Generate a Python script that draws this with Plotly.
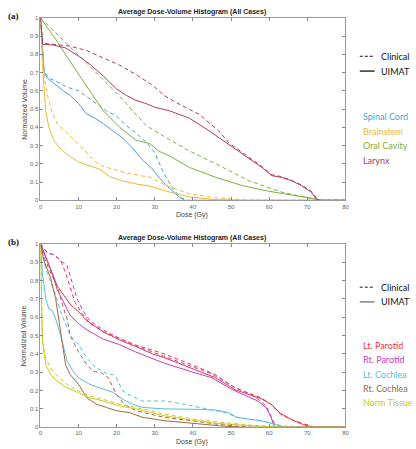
import plotly.graph_objects as go

# ---------------- data: panel (a) ----------------
sc_u_d = [0, 0.3, 0.6, 1, 1.8, 3.5, 6, 7.8, 10, 12, 14.3, 16.5, 19, 21.6, 24, 26.8, 29, 31.3, 33.9, 36.9, 37.8, 80]
sc_u_v = [1, 0.9, 0.78, 0.70, 0.67, 0.64, 0.60, 0.575, 0.53, 0.475, 0.45, 0.42, 0.38, 0.34, 0.29, 0.22, 0.18, 0.12, 0.064, 0.01, 0, 0]
sc_c_d = [0, 0.3, 0.6, 1, 2.7, 4.4, 7, 10, 12, 14.7, 17.3, 20, 22.5, 25, 27.7, 30, 32.2, 34.8, 36.9, 38.5, 80]
sc_c_v = [1, 0.9, 0.78, 0.70, 0.665, 0.65, 0.62, 0.60, 0.57, 0.53, 0.49, 0.46, 0.41, 0.37, 0.32, 0.26, 0.155, 0.06, 0.015, 0, 0]

bs_u_d = [0, 0.5, 1, 1.4, 2.2, 3.5, 5.3, 7.8, 10, 13, 15.6, 18.2, 21.6, 25, 28.7, 33.9, 39.1, 46, 52, 80]
bs_u_v = [1, 0.75, 0.60, 0.49, 0.40, 0.33, 0.28, 0.24, 0.21, 0.19, 0.17, 0.13, 0.106, 0.09, 0.078, 0.045, 0.018, 0.004, 0, 0]
bs_c_d = [0, 0.5, 1, 1.8, 3.1, 4.4, 6.1, 8.7, 11.3, 13.9, 16, 19, 22.5, 26.8, 28.7, 33, 39.1, 46, 55, 80]
bs_c_v = [1, 0.82, 0.68, 0.58, 0.48, 0.42, 0.385, 0.33, 0.28, 0.22, 0.19, 0.17, 0.15, 0.133, 0.128, 0.08, 0.036, 0.014, 0, 0]

oc_u_d = [0, 4.4, 7.8, 12.2, 16.5, 20.8, 25, 28.7, 31, 33.9, 39.1, 46, 52.9, 59.8, 66.7, 71.9, 73, 80]
oc_u_v = [1, 0.87, 0.76, 0.62, 0.49, 0.40, 0.33, 0.31, 0.27, 0.243, 0.18, 0.126, 0.081, 0.05, 0.027, 0.008, 0, 0]
oc_c_d = [0, 3.5, 7.8, 12.2, 16.5, 20.8, 24.2, 27.7, 30, 34, 38.2, 46, 54.6, 63.2, 71.9, 73.5, 80]
oc_c_v = [1, 0.93, 0.84, 0.75, 0.66, 0.57, 0.49, 0.41, 0.38, 0.33, 0.28, 0.20, 0.108, 0.045, 0.008, 0, 0]

lx_u_d = [0, 0.3, 0.6, 3.5, 6.6, 10, 13, 16.5, 20, 22.5, 25, 27.7, 30, 33.9, 39.1, 44.3, 49.4, 54.6, 58.1, 60.7, 63.2, 65.8, 68.4, 71, 72.2, 73.2, 80]
lx_u_v = [1, 0.92, 0.855, 0.85, 0.835, 0.79, 0.745, 0.68, 0.61, 0.575, 0.548, 0.53, 0.51, 0.49, 0.45, 0.38, 0.306, 0.234, 0.18, 0.135, 0.126, 0.108, 0.081, 0.045, 0.01, 0, 0]
lx_c_d = [0, 0.3, 0.6, 3.5, 7.8, 12.2, 16.5, 20.8, 25, 29.4, 32.4, 35.2, 41.7, 46.8, 49.4, 54.6, 58.1, 60.7, 63.2, 65.8, 68.4, 71, 72.4, 73.5, 80]
lx_c_v = [1, 0.93, 0.86, 0.855, 0.845, 0.82, 0.78, 0.74, 0.69, 0.63, 0.575, 0.54, 0.47, 0.38, 0.315, 0.24, 0.185, 0.14, 0.13, 0.11, 0.085, 0.05, 0.012, 0, 0]

# ---------------- data: panel (b) ----------------
lp_u_d = [0, 0.9, 2.7, 4.4, 6.1, 7.8, 10, 12.2, 16.5, 20.8, 25, 29.4, 32.4, 39.8, 45.9, 51, 54.5, 57.9, 60.5, 63, 66.5, 69, 71.5, 80]
lp_u_v = [1, 0.95, 0.86, 0.77, 0.72, 0.67, 0.63, 0.58, 0.52, 0.475, 0.44, 0.40, 0.38, 0.32, 0.27, 0.205, 0.18, 0.155, 0.125, 0.075, 0.035, 0.014, 0, 0]
lp_c_d = [0, 1.8, 3.5, 5.3, 6.6, 7.8, 9.1, 10.9, 13, 16.5, 20.8, 25, 29.4, 32.4, 39.8, 45.9, 51, 54.5, 57.9, 60.5, 63, 66.5, 69, 71.8, 80]
lp_c_v = [1, 0.95, 0.94, 0.91, 0.84, 0.76, 0.68, 0.62, 0.565, 0.52, 0.484, 0.448, 0.42, 0.40, 0.34, 0.287, 0.215, 0.188, 0.16, 0.125, 0.07, 0.036, 0.018, 0, 0]

rp_u_d = [0, 0.9, 2.7, 4.4, 7.8, 10, 12.2, 16.5, 20.8, 25, 29.4, 32.4, 40, 45, 50.2, 57, 59.2, 60.5, 61.4, 80]
rp_u_v = [1, 0.95, 0.86, 0.75, 0.61, 0.565, 0.53, 0.48, 0.45, 0.41, 0.376, 0.35, 0.30, 0.27, 0.206, 0.143, 0.107, 0.054, 0, 0]
rp_c_d = [0, 1.8, 3.5, 5.7, 7, 8.3, 9.6, 11.3, 13, 16.5, 20.8, 25, 29.4, 32.4, 40, 45, 50.2, 55, 57, 59.2, 60.5, 61.8, 80]
rp_c_v = [1, 0.95, 0.94, 0.905, 0.88, 0.79, 0.70, 0.63, 0.58, 0.53, 0.484, 0.444, 0.41, 0.39, 0.33, 0.29, 0.225, 0.18, 0.155, 0.115, 0.06, 0, 0]

lc_u_d = [0, 0.5, 1.4, 2.2, 3.1, 4, 5.3, 7, 8.7, 10, 13, 16.5, 19, 21.6, 24.2, 26.8, 32.4, 40, 46, 49.3, 51.5, 58.8, 61, 64, 80]
lc_u_v = [1, 0.84, 0.70, 0.645, 0.636, 0.59, 0.50, 0.36, 0.30, 0.27, 0.233, 0.206, 0.19, 0.152, 0.125, 0.108, 0.10, 0.098, 0.094, 0.08, 0.054, 0.032, 0.02, 0, 0]
lc_c_d = [0, 1.4, 2.7, 4, 5.3, 7, 7.8, 10, 12.2, 14.3, 16.5, 17.8, 19, 19.9, 21.6, 23.8, 26.8, 32.4, 35.5, 44, 48.5, 51.5, 58, 63, 66, 80]
lc_c_v = [1, 0.86, 0.79, 0.72, 0.63, 0.54, 0.50, 0.45, 0.376, 0.33, 0.30, 0.287, 0.287, 0.27, 0.197, 0.17, 0.143, 0.143, 0.134, 0.10, 0.08, 0.054, 0.035, 0.01, 0, 0]

rc_u_d = [0, 0.9, 2.7, 4, 5.3, 6.6, 7.8, 10, 12.2, 14.7, 17.3, 19.9, 23.3, 26.8, 32.4, 40, 47, 53, 80]
rc_u_v = [1, 0.91, 0.81, 0.70, 0.52, 0.34, 0.287, 0.233, 0.16, 0.125, 0.108, 0.09, 0.08, 0.054, 0.036, 0.02, 0.008, 0, 0]
rc_c_d = [0, 0.9, 2.7, 4.4, 6.1, 7, 7.8, 10, 12.2, 13.9, 16, 17.8, 19.9, 22, 25, 28.5, 32.4, 40, 47, 55, 80]
rc_c_v = [1, 0.93, 0.84, 0.77, 0.645, 0.59, 0.50, 0.41, 0.34, 0.305, 0.296, 0.27, 0.18, 0.125, 0.09, 0.072, 0.054, 0.035, 0.015, 0, 0]

nt_u_d = [0, 0.25, 0.5, 1.4, 2.7, 4.4, 7, 10, 13, 16.5, 20.8, 25, 32.4, 40, 46, 55, 62, 80]
nt_u_v = [1, 0.66, 0.48, 0.34, 0.287, 0.25, 0.215, 0.188, 0.16, 0.143, 0.116, 0.10, 0.063, 0.038, 0.022, 0.008, 0, 0]
nt_c_d = [0, 0.25, 0.5, 1.4, 2.7, 4.4, 7, 10, 13, 16.5, 20.8, 25, 32.4, 40, 46, 55, 65, 80]
nt_c_v = [1, 0.68, 0.47, 0.376, 0.32, 0.28, 0.233, 0.197, 0.17, 0.152, 0.125, 0.108, 0.072, 0.045, 0.03, 0.012, 0, 0]

panel_a = [
    ("Spinal Cord", "#4a9fd4", sc_u_d, sc_u_v, sc_c_d, sc_c_v),
    ("Brainstem", "#efb733", bs_u_d, bs_u_v, bs_c_d, bs_c_v),
    ("Oral Cavity", "#7fae3c", oc_u_d, oc_u_v, oc_c_d, oc_c_v),
    ("Larynx", "#b03a62", lx_u_d, lx_u_v, lx_c_d, lx_c_v),
]
panel_b = [
    ("Lt. Parotid", "#e8343c", lp_u_d, lp_u_v, lp_c_d, lp_c_v),
    ("Rt. Parotid", "#c03ec8", rp_u_d, rp_u_v, rp_c_d, rp_c_v),
    ("Lt. Cochlea", "#55bde6", lc_u_d, lc_u_v, lc_c_d, lc_c_v),
    ("Rt. Cochlea", "#a5653c", rc_u_d, rc_u_v, rc_c_d, rc_c_v),
    ("Norm Tissue", "#c8c824", nt_u_d, nt_u_v, nt_c_d, nt_c_v),
]

x_ticks = list(range(0, 81, 10))
y_ticks = [round(i * 0.1, 1) for i in range(11)]
y_labels = ["0"] + [f"{v:g}" for v in y_ticks[1:-1]] + ["1"]

W, H = 416, 449
fig = go.Figure()

def px_x(p):
    return p / W

def px_y(p):
    return 1 - p / H

panels = [
    (panel_a, "x", "y", 15, 200, 54, 69, 115.5),
    (panel_b, "x2", "y2", 244, 430, 288, 303, 347),
]

for organs, xa, ya, top, bot, ly1, ly2, ly3 in panels:
    for name, col, ud, uv, cd, cv in organs:
        fig.add_trace(go.Scatter(x=cd, y=cv, mode="lines", xaxis=xa, yaxis=ya,
                                 line=dict(color=col, width=1, dash="4px,3px"),
                                 showlegend=False, hoverinfo="skip"))
        fig.add_trace(go.Scatter(x=ud, y=uv, mode="lines", xaxis=xa, yaxis=ya,
                                 line=dict(color=col, width=1),
                                 showlegend=False, hoverinfo="skip"))

tick_font = dict(family="Arial, Liberation Sans", size=6, color="#666")
axis_common = dict(range=[0, 80], tickvals=x_ticks, ticks="inside", ticklen=3,
                   tickcolor="#888", showline=True, linecolor="#9a9a9a", linewidth=1,
                   mirror="ticks", showgrid=False, zeroline=False, tickfont=tick_font)
yaxis_common = dict(range=[0, 1], tickvals=y_ticks, ticktext=y_labels, ticks="inside",
                    ticklen=3, tickcolor="#888", showline=True, linecolor="#9a9a9a",
                    linewidth=1, mirror="ticks", showgrid=False, zeroline=False,
                    tickfont=tick_font)

xd = [px_x(39), px_x(348.5)]
fig.update_layout(
    width=W, height=H, margin=dict(l=0, r=0, t=0, b=0),
    paper_bgcolor="white", plot_bgcolor="white",
    xaxis=dict(domain=xd, anchor="y", **axis_common),
    yaxis=dict(domain=[px_y(200), px_y(15)], anchor="x", **yaxis_common),
    xaxis2=dict(domain=xd, anchor="y2", **axis_common),
    yaxis2=dict(domain=[px_y(430), px_y(244)], anchor="x2", **yaxis_common),
)

ann = []
shapes = []
label_font = dict(family="Arial, Liberation Sans", size=7, color="#444")
leg_family = "Lato, Open Sans, Noto Sans"
for i, (organs, xa, ya, top, bot, ly1, ly2, ly3) in enumerate(panels):
    ann.append(dict(x=px_x(193), y=px_y(top - 6), xref="paper", yref="paper",
                    text="<b>Average Dose-Volume Histogram (All Cases)</b>", showarrow=False,
                    font=dict(family="Arial, Liberation Sans", size=7, color="#222"),
                    xanchor="center", yanchor="middle"))
    ann.append(dict(x=px_x(4), y=px_y(top - 2), xref="paper", yref="paper",
                    text="<b>(%s)</b>" % ("a" if i == 0 else "b"), showarrow=False,
                    font=dict(family="Liberation Serif, Times New Roman", size=9, color="#111"),
                    xanchor="left", yanchor="middle"))
    ann.append(dict(x=px_x(22), y=px_y((top + bot) / 2), xref="paper", yref="paper",
                    text="Normalized Volume", textangle=-90, showarrow=False, font=label_font,
                    xanchor="center", yanchor="middle"))
    ann.append(dict(x=px_x(193), y=px_y(bot + 15), xref="paper", yref="paper",
                    text="Dose (Gy)", showarrow=False, font=label_font,
                    xanchor="center", yanchor="middle"))
    shapes.append(dict(type="line", xref="paper", yref="paper", x0=px_x(363), x1=px_x(378),
                       y0=px_y(ly1), y1=px_y(ly1), line=dict(color="#111", width=1, dash="3px,2px")))
    shapes.append(dict(type="line", xref="paper", yref="paper", x0=px_x(363), x1=px_x(378),
                       y0=px_y(ly2), y1=px_y(ly2), line=dict(color="#111", width=1.3 if i == 0 else 0.8)))
    for txt, yy in (("Clinical", ly1), ("UIMAT", ly2)):
        ann.append(dict(x=px_x(383), y=px_y(yy), xref="paper", yref="paper", text=txt,
                        showarrow=False, font=dict(family=leg_family, size=9, color="#111"),
                        xanchor="left", yanchor="middle"))
    for k, (name, col, *_rest) in enumerate(organs):
        ann.append(dict(x=px_x(364), y=px_y(ly3 + k * 14.6), xref="paper", yref="paper", text=name,
                        showarrow=False, font=dict(family=leg_family, size=9, color=col),
                        xanchor="left", yanchor="middle"))

fig.update_layout(annotations=ann, shapes=shapes)
fig.write_html("out.html")
